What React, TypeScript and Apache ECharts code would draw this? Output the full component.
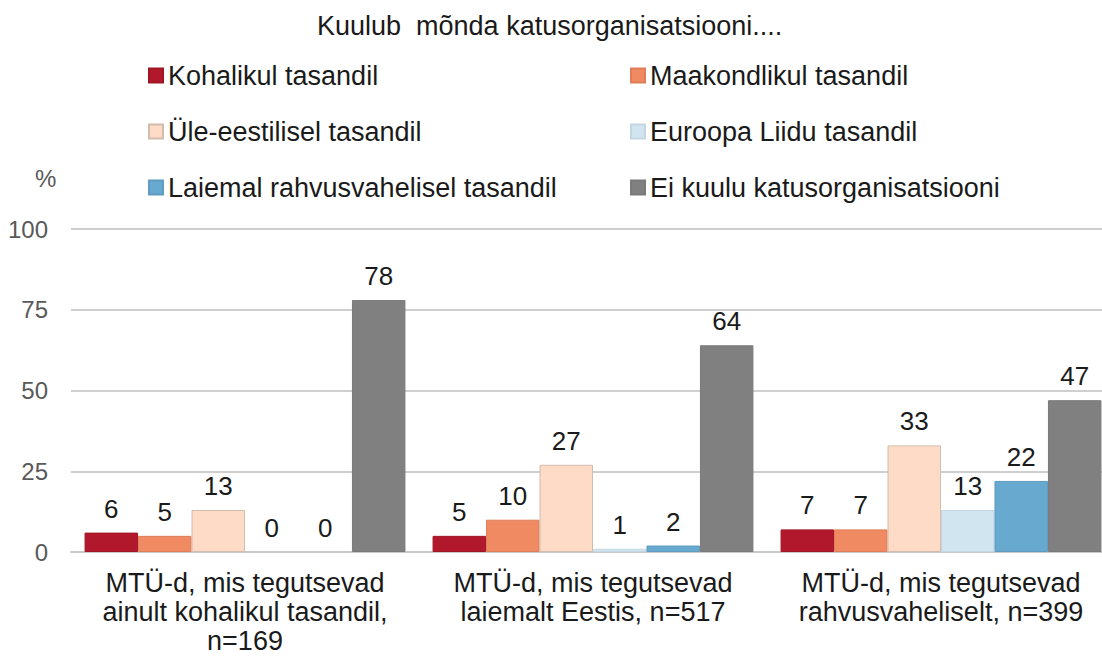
import React, { useEffect, useRef } from "react";
import * as echarts from "echarts";

const categories = [
  "MTÜ-d, mis tegutsevad\nainult kohalikul tasandil,\nn=169",
  "MTÜ-d, mis tegutsevad\nlaiemalt Eestis, n=517",
  "MTÜ-d, mis tegutsevad\nrahvusvaheliselt, n=399",
];
const seriesNames = [
  "Kohalikul tasandil",
  "Maakondlikul tasandil",
  "Üle-eestilisel tasandil",
  "Euroopa Liidu tasandil",
  "Laiemal rahvusvahelisel tasandil",
  "Ei kuulu katusorganisatsiooni",
];
const seriesValues = [
  [6, 5, 7],
  [5, 10, 7],
  [13, 27, 33],
  [0, 1, 13],
  [0, 2, 22],
  [78, 64, 47],
];
const colors = ["#B2182B", "#EF8A62", "#FDDBC7", "#D1E5F0", "#67A9CF", "#808080"];
const borders = ["#a01626", "#e07d58", "#d2bcae", "#c3d6e2", "#5f9cc0", "#7a7a7a"];
const yTicks = { min: 0, max: 100, interval: 25 };

const FONT = "Liberation Sans, Arial, sans-serif";

export default function App() {
  const ref = useRef<HTMLDivElement>(null);
  useEffect(() => {
    if (!ref.current) return;
    const chart = echarts.init(ref.current, undefined, { renderer: "svg" });
    chart.setOption({
      animation: false,
      textStyle: { fontFamily: FONT },
      title: {
        text: "Kuulub  mõnda katusorganisatsiooni....",
        left: 312,
        top: 7,
        textStyle: { fontFamily: FONT, fontSize: 27, fontWeight: "normal", color: "#1a1a1a" },
      },
      legend: [
        {
          orient: "vertical",
          left: 143,
          top: 57,
          itemWidth: 14,
          itemHeight: 14,
          itemGap: 29,
          icon: "rect",
          data: [seriesNames[0], seriesNames[2], seriesNames[4]],
          textStyle: { fontFamily: FONT, fontSize: 27, color: "#1a1a1a" },
        },
        {
          orient: "vertical",
          left: 625,
          top: 57,
          itemWidth: 14,
          itemHeight: 14,
          itemGap: 29,
          icon: "rect",
          data: [seriesNames[1], seriesNames[3], seriesNames[5]],
          textStyle: { fontFamily: FONT, fontSize: 27, color: "#1a1a1a" },
        },
      ],
      graphic: [
        {
          type: "text",
          left: 35,
          top: 166,
          style: { text: "%", font: `24px ${FONT}`, fill: "#595959" },
        },
      ],
      grid: { left: 71, right: 0, top: 229, bottom: 105, containLabel: false },
      xAxis: {
        type: "category",
        data: categories,
        axisLine: { show: true, lineStyle: { color: "#c8c8c8", width: 2 } },
        axisTick: { show: false },
        axisLabel: {
          fontFamily: FONT,
          fontSize: 27,
          color: "#1a1a1a",
          lineHeight: 29,
          margin: 16,
          interval: 0,
        },
      },
      yAxis: {
        type: "value",
        min: yTicks.min,
        max: yTicks.max,
        interval: yTicks.interval,
        axisLine: { show: false },
        axisTick: { show: false },
        splitLine: { lineStyle: { color: "#cfcfcf", width: 2 } },
        axisLabel: { fontFamily: FONT, fontSize: 24, color: "#595959", margin: 23 },
      },
      series: seriesNames.map((name, i) => ({
        name,
        type: "bar",
        data: seriesValues[i].map((v) => ({
          value: v,
          itemStyle: { borderWidth: v === 0 ? 0 : 1 },
        })),
        barGap: "0%",
        barCategoryGap: "7.8%",
        itemStyle: { color: colors[i], borderColor: borders[i], borderWidth: 1 },
        label: {
          show: true,
          position: "top",
          distance: 11,
          fontFamily: FONT,
          fontSize: 26,
          color: "#1a1a1a",
        },
      })),
    });
    return () => chart.dispose();
  }, []);
  return (
    <div
      style={{
        position: "absolute",
        left: 0,
        top: 0,
        width: 1102,
        height: 657,
        overflow: "hidden",
        background: "#fff",
      }}
    >
      <div ref={ref} style={{ width: 1115, height: 657 }} />
    </div>
  );
}
